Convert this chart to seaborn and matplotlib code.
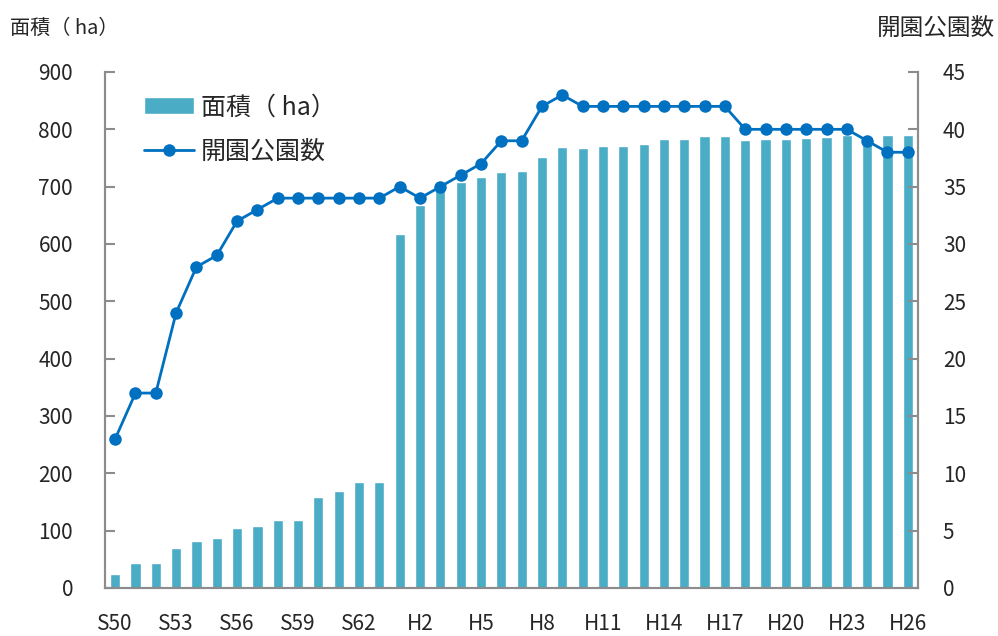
import numpy as np
import pandas as pd
import matplotlib
matplotlib.use('Agg')
import matplotlib.pyplot as plt
import seaborn as sns

# data
years = (['S%d' % y for y in range(50, 64)] +
         ['H%d' % y for y in range(1, 27)])

area = [25, 43, 43, 70, 82, 88, 105, 108, 119, 119, 158, 170, 184, 185,
        618, 668, 705, 708, 717, 725, 728, 751, 770, 768, 771, 771, 775, 783,
        784, 788, 789, 781, 783, 783, 785, 786, 790, 789, 790, 790]

parks = [13, 17, 17, 24, 28, 29, 32, 33, 34, 34, 34, 34, 34, 34,
         35, 34, 35, 36, 37, 39, 39, 42, 43, 42, 42, 42, 42, 42,
         42, 42, 42, 40, 40, 40, 40, 40, 40, 39, 38, 38]

tick_labels = ['S50', 'S53', 'S56', 'S59', 'S62', 'H2', 'H5', 'H8',
               'H11', 'H14', 'H17', 'H20', 'H23', 'H26']

df = pd.DataFrame({'year': years, 'area': area, 'parks': parks})
df['pos'] = np.arange(len(df))

sns.set_style('white')
plt.rcParams['font.family'] = ['Noto Sans CJK JP', 'DejaVu Sans']

bar_color = '#4BACC6'
line_color = '#0070C0'
axis_gray = '#8C8C8C'

fig = plt.figure(figsize=(9.98, 6.36), dpi=100)
ax = fig.add_axes([0.1052, 0.0755, 0.9198 - 0.1052, 0.8868 - 0.0755])

sns.barplot(data=df, x='year', y='area', color=bar_color, width=0.5,
            saturation=1, ax=ax, label='面積（ ha）')
ax.set_xlim(-0.5, len(df) - 0.5)
ax.set_ylim(0, 900)
ax.set_yticks(range(0, 901, 100))
ax.set_xlabel('')
ax.set_ylabel('')

ax2 = ax.twinx()
sns.lineplot(data=df, x='pos', y='parks', color=line_color, marker='o',
             markersize=9, markeredgewidth=0, linewidth=2, sort=False,
             ax=ax2, label='開園公園数')
ax2.set_ylim(0, 45)
ax2.set_yticks(range(0, 46, 5))
ax2.set_xlim(-0.5, len(df) - 0.5)
ax2.set_xlabel('')
ax2.set_ylabel('')

# x ticks: labels every 3 years, small marks between bars
label_pos = [years.index(t) for t in tick_labels]
ax.set_xticks(label_pos)
ax.set_xticklabels(tick_labels)
ax.set_xticks(np.arange(-0.5, len(df), 1), minor=True)
ax.tick_params(axis='x', which='major', length=0, pad=18, labelsize=15)
ax.tick_params(axis='x', which='minor', direction='in', length=7,
               width=1.5, color=axis_gray)
ax.tick_params(axis='y', direction='in', length=7, width=1.5,
               color=axis_gray, pad=23, labelsize=15)
ax2.tick_params(axis='y', direction='in', length=7, width=1.5,
                color=axis_gray, pad=18, labelsize=15)

for a in (ax, ax2):
    a.spines['top'].set_visible(False)
    for s in ('left', 'right', 'bottom'):
        a.spines[s].set_color(axis_gray)
        a.spines[s].set_linewidth(1.5)

# legend
h1, l1 = ax.get_legend_handles_labels()
h2, l2 = ax2.get_legend_handles_labels()
if ax.get_legend():
    ax.get_legend().remove()
ax2.legend(h1 + h2, l1 + l2, loc='upper left', bbox_to_anchor=(0.02, 1.0),
           frameon=False, fontsize=18, handlelength=2.0, handleheight=0.7,
           labelspacing=0.75, handletextpad=0.3)

fig.text(0.01, 0.955, '面積（ ha）', fontsize=14.5, ha='left', va='center')
fig.text(0.997, 0.955, '開園公園数', fontsize=17, ha='right', va='center')

fig.savefig('out.png', dpi=100)
